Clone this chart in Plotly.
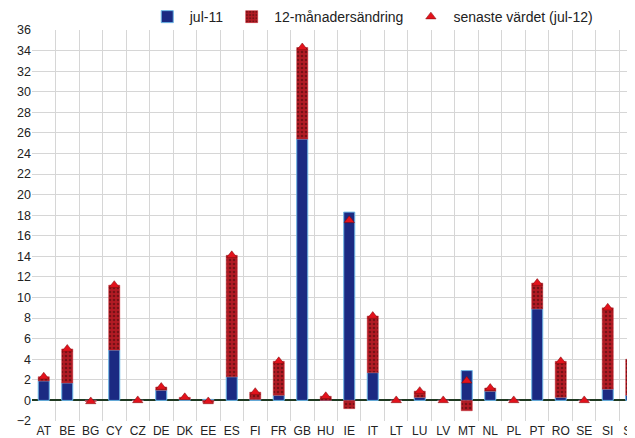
import plotly.graph_objects as go

countries = ["AT", "BE", "BG", "CY", "CZ", "DE", "DK", "EE", "ES", "FI", "FR", "GB", "HU",
             "IE", "IT", "LT", "LU", "LV", "MT", "NL", "PL", "PT", "RO", "SE", "SI", "SK"]
jul11 = [1.9, 1.7, 0.0, 4.9, 0.0, 1.0, 0.1, 0.1, 2.3, 0.1, 0.5, 25.4, 0.0,
         18.3, 2.7, 0.0, 0.3, 0.0, 2.9, 0.9, 0.0, 8.9, 0.3, 0.0, 1.1, 0.5]
jul12 = [2.3, 5.0, -0.1, 11.2, 0.0, 1.3, 0.3, -0.1, 14.1, 0.8, 3.8, 34.3, 0.4,
         17.5, 8.2, 0.0, 0.9, 0.0, 1.9, 1.2, 0.0, 11.4, 3.8, 0.0, 9.0, 4.0]
change12m = [round(b - a, 2) for a, b in zip(jul11, jul12)]

FONT = "Liberation Sans, Arial, sans-serif"

fig = go.Figure()
fig.add_trace(go.Bar(
    x=countries, y=jul11, name="jul-11", width=0.47,
    marker=dict(color="#1b2a82", line=dict(color="#6cb6e6", width=1)),
))
fig.add_trace(go.Bar(
    x=countries, y=change12m, name="12-månadersändring", width=0.47,
    marker=dict(color="#b31b24", line=dict(color="#c4222c", width=0.5),
                pattern=dict(shape=".", fgcolor="#3a0808", bgcolor="#b31b24",
                             size=4, solidity=0.35)),
))
fig.add_trace(go.Scatter(
    x=countries, y=jul12, name="senaste värdet (jul-12)", mode="markers",
    marker=dict(symbol="triangle-up", size=9, color="#e3121c",
                line=dict(color="#7a0a0a", width=0.5)),
    cliponaxis=True,
))

fig.update_layout(
    barmode="relative",
    width=627, height=430,
    margin=dict(l=24, r=0, t=22, b=17, autoexpand=False),
    paper_bgcolor="white", plot_bgcolor="white",
    font=dict(family=FONT, color="#222222", size=12),
    legend=dict(orientation="h", x=0.187, xanchor="left",
                yref="container", y=0.979, yanchor="middle",
                font=dict(size=14, color="#222222"), itemwidth=35,
                bgcolor="rgba(0,0,0,0)"),
    xaxis=dict(type="category", range=[-0.5, 25.16], tickson="boundaries",
               showgrid=True, gridcolor="#d6d6d6", gridwidth=1,
               ticks="", showline=False, automargin=False,
               tickangle=0, ticklabelstandoff=1,
               tickfont=dict(size=12, color="#222222")),
    yaxis=dict(range=[-2, 36], dtick=2, showgrid=True, gridcolor="#d6d6d6",
               gridwidth=1, zeroline=True, zerolinecolor="#1f3a22", zerolinewidth=2,
               ticks="", showline=False, automargin=False,
               tickfont=dict(size=12.5, color="#222222")),
)

fig.write_html("out.html")
